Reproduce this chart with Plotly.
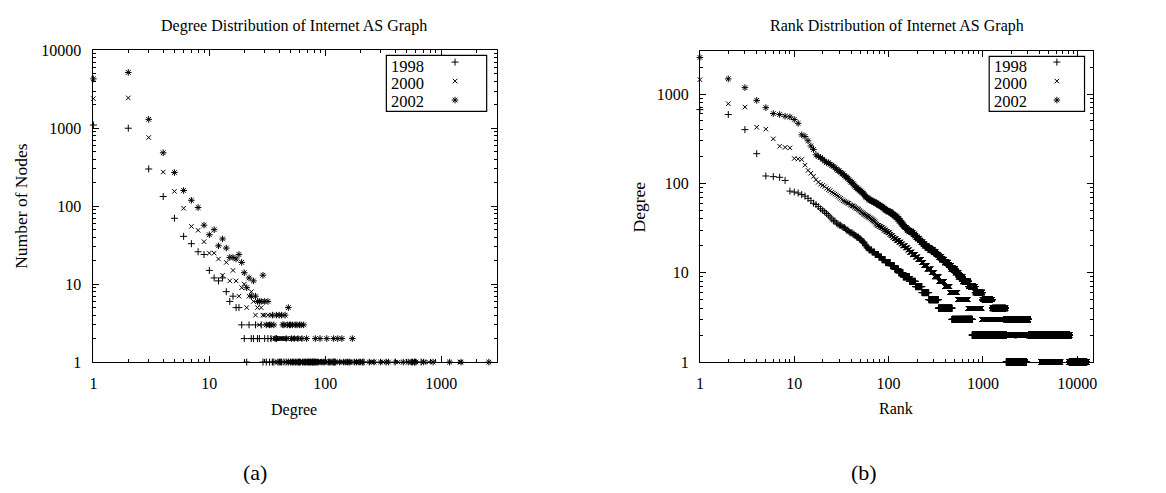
import numpy as np
import plotly.graph_objects as go

W, H = 1166, 493

years = ["1998", "2000", "2002"]

# Degree distribution (degree -> number of nodes)
deg_1998 = [1, 2, 3, 4, 5, 6, 7, 8, 9, 10, 11, 12, 13, 14, 15, 16, 17, 18, 19, 20,
            21, 22, 23, 24, 25, 26, 27, 28, 29, 30, 31, 32, 33, 34, 35, 36,
            38, 40, 42, 44, 46, 48, 50, 52, 55, 58, 60, 64, 68, 72, 75, 78, 80, 82,
            108, 117, 119, 121, 215, 400, 590, 670]
cnt_1998 = [1100, 1000, 300, 133, 70, 41, 33, 26, 24, 15, 12, 11, 12, 8, 6, 7, 5, 5, 3, 2,
            1, 3, 2, 2, 3, 2, 2, 3, 1, 2, 1, 2, 1, 2, 1, 1,
            2, 1, 1, 1, 1, 1, 1, 1, 1, 1, 1, 1, 1, 1, 1, 1, 1, 1,
            1, 1, 1, 1, 1, 1, 1, 1]

deg_2000 = [1, 2, 3, 4, 5, 6, 7, 8, 9, 10, 11, 12, 13, 14, 15, 16, 17, 18, 19, 20,
            21, 22, 23, 24, 25, 26, 27, 28, 29, 30, 31, 32, 33, 34, 35, 36, 37, 38, 39, 40,
            41, 42, 43, 44, 45, 46, 47, 48, 49, 50, 51, 52, 53, 54, 55, 56, 57, 58, 60, 61,
            62, 63, 64, 66, 68, 70, 72, 74, 76, 78, 80, 83, 85, 88, 92, 95, 98, 103, 110, 120,
            130, 140, 160, 185, 188, 190, 250, 253, 261, 315, 405, 425, 715, 780, 1450]
cnt_2000 = [2400, 2450, 760, 274, 155, 94, 55, 49, 35, 25, 25, 21, 13, 19, 11, 15, 11, 7, 9, 10,
            5, 7, 8, 6, 4, 5, 3, 5, 4, 4, 3, 4, 3, 4, 2, 1, 2, 2, 2, 2,
            2, 2, 2, 2, 2, 1, 2, 1, 1, 1, 1, 2, 1, 1, 1, 2, 1, 1, 2, 1,
            1, 1, 1, 1, 1, 1, 1, 1, 1, 1, 1, 1, 1, 1, 1, 1, 1, 1, 1, 1,
            1, 1, 1, 1, 1, 1, 1, 1, 1, 1, 1, 1, 1, 1, 1]

deg_2002 = [1, 2, 3, 4, 5, 6, 7, 8, 9, 10, 11, 12, 13, 14, 15, 16, 17, 18, 19, 20,
            21, 22, 23, 24, 25, 26, 27, 28, 29, 30, 31, 32, 33, 34, 35, 36, 37, 38, 39, 40,
            41, 42, 43, 44, 45, 46, 47, 48, 49, 50, 51, 52, 53, 54, 55, 56, 57, 58, 59, 60,
            61, 62, 63, 64, 65, 66, 67, 69, 70, 71, 73, 75, 77, 78, 80, 82, 84, 86, 87, 90,
            93, 96, 99, 103, 106, 110, 114, 118, 122, 128, 133, 139, 144, 150, 156, 160, 163, 171, 178, 186,
            195, 200, 209, 240, 263, 300, 335, 350, 470, 519, 555, 565, 590, 605, 705, 850, 1180, 1480, 2570]
cnt_2002 = [4300, 5200, 1300, 484, 270, 159, 119, 96, 57, 43, 50, 31, 38, 29, 22, 22, 21, 24, 19, 14,
            9, 12, 7, 11, 7, 6, 6, 6, 13, 6, 3, 6, 3, 3, 4, 3, 2, 4, 1, 4,
            1, 4, 3, 3, 4, 2, 3, 5, 3, 3, 2, 3, 1, 2, 3, 1, 3, 2, 1, 3,
            1, 3, 2, 1, 3, 1, 1, 2, 1, 1, 1, 1, 1, 1, 1, 2, 1, 1, 1, 2,
            1, 1, 1, 2, 1, 1, 1, 2, 1, 2, 1, 2, 1, 1, 1, 1, 1, 2, 1, 1,
            1, 1, 1, 1, 1, 1, 1, 1, 1, 1, 1, 1, 1, 1, 1, 1, 1, 1, 1]

major_ticks = [1, 10, 100, 1000, 10000]
major_text = ["1", "10", "100", "1000", "10000"]

data = {"1998": (deg_1998, cnt_1998), "2000": (deg_2000, cnt_2000), "2002": (deg_2002, cnt_2002)}
symbols = {"1998": "cross-thin-open", "2000": "x-thin-open", "2002": "asterisk-open"}
msize = {"1998": 5, "2000": 4.5, "2002": 5.5}

FONT = "Liberation Serif, Times New Roman, serif"

def px(x):
    return x / W

def py(y):
    return 1 - y / H

fig = go.Figure()

for yr in years:
    deg, cnt = data[yr]
    mk = dict(symbol=symbols[yr], size=msize[yr], color="black",
              line=dict(width=1, color="black"))
    fig.add_trace(go.Scatter(x=deg, y=cnt, mode="markers", marker=mk, name="",
                             xaxis="x", yaxis="y", legend="legend", cliponaxis=False,
                             hoverinfo="skip"))

for yr in years:
    deg, cnt = data[yr]
    seq = np.sort(np.repeat(np.array(deg), np.array(cnt)))[::-1]
    rank = np.arange(1, len(seq) + 1)
    mk = dict(symbol=symbols[yr], size=msize[yr], color="black",
              line=dict(width=1, color="black"))
    fig.add_trace(go.Scatter(x=rank, y=seq, mode="markers", marker=mk, name="",
                             xaxis="x2", yaxis="y2", legend="legend2", cliponaxis=False,
                             hoverinfo="skip"))

minor_vals = [m * 10 ** k for k in range(0, 5) for m in range(2, 10)]

def axis_style(domain, rng, anchor):
    return dict(
        type="log", domain=domain, range=rng, anchor=anchor,
        showline=True, linecolor="black", linewidth=1, mirror="ticks",
        ticks="inside", ticklen=6, tickwidth=1, tickcolor="black",
        tickmode="array", tickvals=major_ticks, ticktext=major_text,
        tickfont=dict(family=FONT, size=16, color="black"),
        showgrid=False, zeroline=False,
        minor=dict(ticks="inside", ticklen=3, tickwidth=1, tickcolor="black",
                   tickmode="array", tickvals=minor_vals, showgrid=False),
    )

xa = axis_style([px(90), px(496)], [0, np.log10(3000)], "y")
ya = axis_style([py(366.7), py(43.8)], [0, 4], "x")
xa2 = axis_style([px(700.7), px(1096.7)], [0, 4.168], "y2")
ya2 = axis_style([py(366.7), py(45)], [0, np.log10(3000)], "x2")
xa["ticklabelstandoff"] = 7
xa2["ticklabelstandoff"] = 7
ya["ticklabelstandoff"] = 8
ya2["ticklabelstandoff"] = 7

annotations = []

def ann(text, x, y, size, xanchor="center", angle=0):
    annotations.append(dict(text=text, x=px(x), y=py(y), xref="paper", yref="paper",
                            showarrow=False, xanchor=xanchor, yanchor="middle",
                            textangle=angle,
                            font=dict(family=FONT, size=size, color="black")))

ann("Degree Distribution of Internet AS Graph", 292, 19, 16)
ann("Rank Distribution of Internet AS Graph", 899, 19, 16)
ann("Degree", 292, 416, 16)
ann("Rank", 898, 415, 16)
ann("Number of Nodes", 17, 205, 17.5, angle=-90)
ann("Degree", 639, 206, 17.5, angle=-90)
ann("(a)", 252.5, 481, 22)
ann("(b)", 866, 481, 22)

leg_rows = [60.5, 78.5, 96.5]
for i, yr in enumerate(years):
    ann(yr, 388, leg_rows[i], 16.5, xanchor="left")
    ann(yr, 995, leg_rows[i], 16.5, xanchor="left")

shapes = [
    dict(type="rect", xref="paper", yref="paper", x0=px(385), x1=px(486), y0=py(107), y1=py(49),
         line=dict(color="black", width=1.2), fillcolor="white", layer="below"),
    dict(type="rect", xref="paper", yref="paper", x0=px(992), x1=px(1088), y0=py(107), y1=py(50),
         line=dict(color="black", width=1.2), fillcolor="white", layer="below"),
]

legend_common = dict(bgcolor="rgba(0,0,0,0)", borderwidth=0, font=dict(family=FONT, size=11),
                     xanchor="left", yanchor="top", tracegroupgap=0, itemwidth=30)

fig.update_layout(
    width=W, height=H,
    margin=dict(l=0, r=0, t=0, b=0),
    paper_bgcolor="white", plot_bgcolor="rgba(0,0,0,0)",
    xaxis=xa, yaxis=ya, xaxis2=xa2, yaxis2=ya2,
    annotations=annotations, shapes=shapes,
    legend=dict(x=px(434), y=py(41), **legend_common),
    legend2=dict(x=px(1040), y=py(41), **legend_common),
    font=dict(family=FONT, color="black"),
)

fig.write_html("out.html")
